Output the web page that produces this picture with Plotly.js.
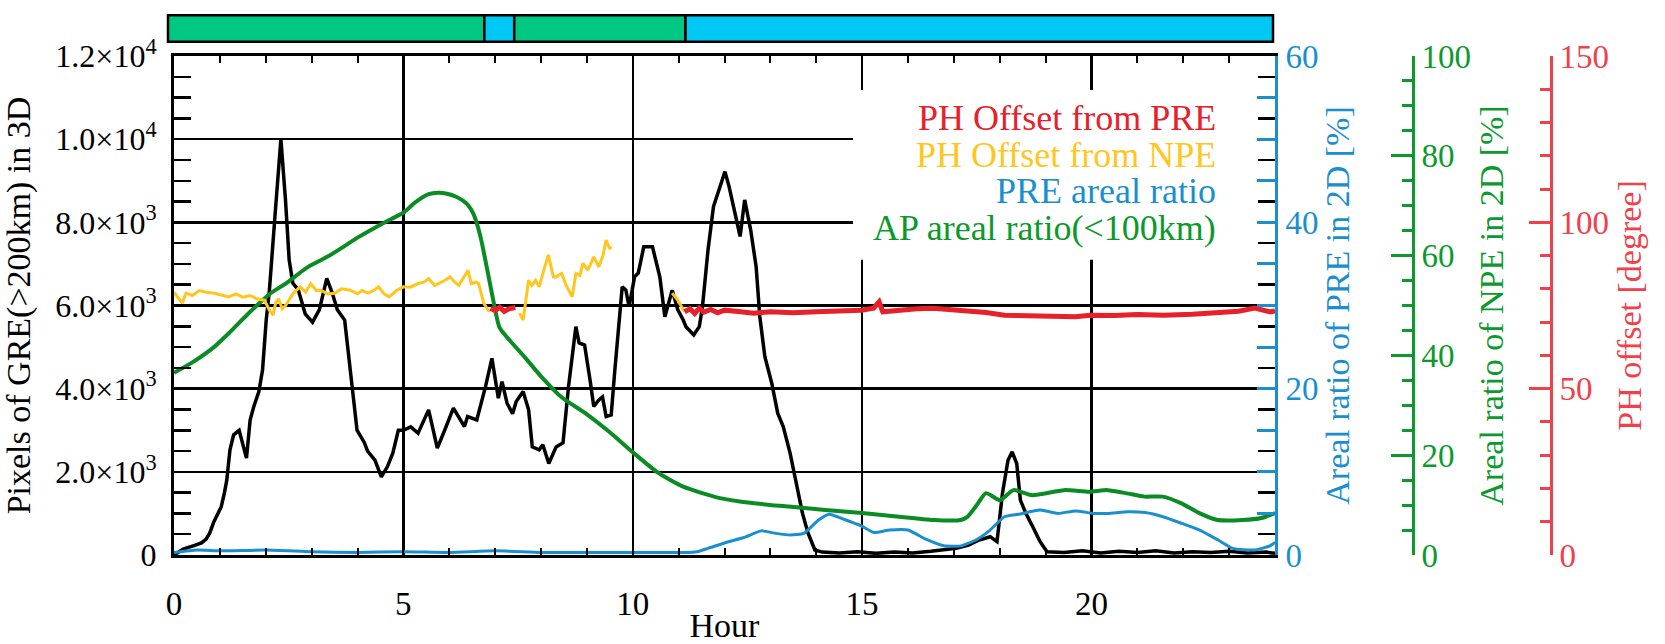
<!DOCTYPE html>
<html><head><meta charset="utf-8">
<script src="https://cdn.plot.ly/plotly-3.0.1.min.js"></script>
<style>html,body{margin:0;padding:0;background:#fff}#chart{width:1665px;height:644px}</style>
</head><body><div id="chart"></div>
<script>
// ---- data ----
const greHour = [0,0.2,0.45,0.6,0.7,0.78,0.87,0.93,1.03,1.1,1.15,1.22,1.3,1.42,1.5,1.58,1.66,1.74,1.85,1.93,2.01,2.08,2.2,2.33,2.43,2.51,2.59,2.71,2.86,3.02,3.17,3.33,3.45,3.56,3.72,3.88,3.99,4.15,4.22,4.38,4.52,4.65,4.77,4.89,5.0,5.16,5.32,5.55,5.74,5.9,6.09,6.33,6.4,6.6,6.79,6.93,7.07,7.15,7.26,7.38,7.46,7.61,7.73,7.81,7.96,8.04,8.17,8.33,8.48,8.6,8.76,8.83,8.95,9.07,9.15,9.26,9.34,9.42,9.53,9.61,9.69,9.77,9.85,9.92,10.04,10.12,10.24,10.43,10.59,10.7,10.86,10.98,11.1,11.16,11.33,11.45,11.52,11.64,11.76,11.87,12.01,12.1,12.22,12.34,12.44,12.57,12.69,12.77,12.88,13.03,13.16,13.28,13.43,13.58,13.7,13.82,13.97,14.13,14.5,14.9,15.3,15.7,16.1,16.5,16.8,17.05,17.32,17.55,17.79,17.94,18.06,18.18,18.27,18.37,18.45,18.57,18.72,18.88,19.03,19.4,19.8,20.2,20.6,21.0,21.4,21.8,22.2,22.6,23.0,23.4,23.8,24];
const greValue = [0,140,230,290,380,530,800,920,1160,1500,1800,2530,2890,3000,2700,2330,3250,3570,3930,4450,5650,6370,8140,10000,8540,7100,6540,6370,5800,5600,5900,6650,6300,5900,5650,4050,3000,2700,2500,2280,1880,2120,2450,3000,3000,3080,2930,3490,2570,3000,3530,3090,3330,3250,4050,4730,3770,4170,3650,3400,3690,3930,3490,2600,2530,2650,2200,2600,2700,4050,5490,5100,5050,4200,3570,3730,3800,3330,3370,4450,5580,6450,6370,5970,6690,6780,7410,7410,6690,5730,6370,5900,5650,5490,5290,5490,5970,7330,8380,8780,9220,8860,8220,7660,8540,7820,6930,5730,4770,4130,3410,3090,2450,1640,1000,530,120,70,50,80,40,70,50,90,130,160,240,360,440,320,1490,2280,2480,2200,1320,1000,680,320,80,60,100,50,90,60,100,50,80,60,90,50,70,40];

const preHour = [0,0.5,1,2,3,4,5,6,7,8,9,10,10.8,11.1,11.4,11.64,12.03,12.42,12.8,13.12,13.43,13.73,14.05,14.28,14.6,14.98,15.26,15.6,16.0,16.39,16.78,17.16,17.48,17.79,18.1,18.41,18.88,19.27,19.65,20.05,20.36,20.8,21.17,21.56,21.97,22.36,22.76,23.08,23.56,23.89,24];
const preRatio = [0.3,0.6,0.5,0.6,0.4,0.3,0.4,0.3,0.5,0.3,0.3,0.3,0.3,0.3,0.4,0.8,1.5,2.1,2.9,2.6,2.4,2.6,4.2,4.9,4.3,3.5,2.7,3.0,3.0,1.9,1.1,1.1,1.8,3.0,4.6,4.9,5.4,5.0,5.3,5.0,5.0,5.2,5.1,4.6,3.8,3.0,1.8,0.8,0.6,1.1,1.5];

const apHour = [0,0.4,0.85,1.2,1.6,2.1,2.45,2.9,3.35,3.7,4.0,4.4,4.75,5.0,5.25,5.55,5.75,5.95,6.15,6.3,6.42,6.52,6.6,6.7,6.8,6.95,7.1,7.34,7.65,8.0,8.45,9.0,9.5,10.0,10.55,11.1,11.9,12.6,13.4,14.2,15.0,15.75,16.55,17.15,17.3,17.5,17.7,18.0,18.3,18.7,19.4,19.95,20.35,20.8,21.15,21.55,21.95,22.35,22.75,23.3,23.7,24];
const apRatio = [36.5,38.6,41.5,44.5,48.2,52.4,54.5,57.6,59.8,61.8,63.6,65.7,67.4,68.6,70.6,72.3,72.6,72.4,71.8,71.0,70.0,68.5,66.5,63.0,58.5,51.5,45.5,42.8,39.6,35.8,31.6,28.2,24.6,20.6,16.5,13.7,11.4,10.4,9.7,9.0,8.4,7.7,7.0,7.0,7.7,10.0,12.4,11.0,13.0,12.0,13.0,12.7,13.0,12.3,11.7,11.7,10.4,8.4,7.0,7.0,7.4,8.4];

const npeOffHour = [0,0.1,0.18,0.26,0.4,0.55,0.7,0.88,1.05,1.19,1.35,1.5,1.66,1.8,1.97,2.08,2.16,2.22,2.28,2.36,2.43,2.52,2.6,2.75,2.87,2.98,3.1,3.2,3.35,3.5,3.65,3.84,4.0,4.1,4.23,4.35,4.46,4.58,4.69,4.85,5.0,5.15,5.32,5.45,5.55,5.68,5.78,5.9,6.02,6.12,6.21,6.3,6.41,6.48,6.58,6.64,6.75,6.87,null,7.53,7.61,7.73,7.8,7.88,7.96,8.04,8.16,8.27,8.33,8.45,8.55,8.68,8.76,8.85,8.91,9.02,9.15,9.26,9.35,9.42,9.5,9.53,null,10.86,10.98,11.13];
const npeOffset = [79,77,75.7,78.7,78,79.5,79,78.7,78.2,77.6,78.5,77.5,78,77,76.6,73.6,72.1,76,77,74,75,77,78.7,80.6,79,81.6,79.5,79.6,78.5,78.7,80,79.6,78.5,79.5,78.7,79.5,80.6,78.5,77.6,79.5,80.6,80.5,81.6,82,83.1,81,81.6,82.5,83.6,82,81.1,83,85.6,81.6,82,81.6,75.7,73.1,null,72.7,70.6,82.6,81,82.6,80.6,84.6,90.2,83.6,83.6,84.6,81,77.6,84.6,84,87.7,85.6,89.6,86.6,90,94.7,92,92.7,null,78.7,76.6,73.1];

const preOffHour = [6.9,7.0,7.1,7.2,7.3,7.44,null,11.13,11.25,11.35,11.45,11.55,11.7,11.85,12.0,12.3,12.64,13.0,13.5,14.0,14.5,14.98,15.25,15.37,15.45,15.8,16.2,16.55,17.0,17.32,17.7,18.1,18.6,19.1,19.65,19.97,20.5,21.0,21.56,22.2,22.76,23.2,23.56,23.75,23.9,24];
const preOffset = [74.2,73.5,74.5,73.2,74,74.4,null,73.1,74,72.6,74.2,73,73.8,72.8,73.6,73.2,72.7,73.1,72.8,73.1,73.3,73.6,74.2,76.1,73.1,73.6,74,74.2,73.8,73.6,72.9,72.1,71.9,71.8,71.6,72.1,72.0,72.3,72.1,72.4,72.7,73.3,74.2,73.5,73.1,73.4];

// top status bar: periods (start hour, length) and type
const periodStart = [0, 6.87, 7.52, 11.24];
const periodLength = [6.87, 0.65, 3.72, 12.76];
const periodColor = ['#00c882', '#00c8f5', '#00c882', '#00c8f5'];

const leftTickVals = [0, 2000, 4000, 6000, 8000, 10000, 12000];
const leftTickText = ['0', '2.0×10<sup>3</sup>', '4.0×10<sup>3</sup>', '6.0×10<sup>3</sup>', '8.0×10<sup>3</sup>', '1.0×10<sup>4</sup>', '1.2×10<sup>4</sup>'];
const legendLabels = ['PH Offset from PRE', 'PH Offset from NPE', 'PRE areal ratio', 'AP areal ratio(<100km)'];

// ---- style ----
const FONT = '"Liberation Serif", "Times New Roman", Times, serif';
const C_BLACK = '#000000', C_GREEN = '#0a8c24', C_GREENAX = '#0c9a2e', C_BLUE = '#1a8fd0', C_RED = '#e8202a', C_REDAX = '#f0404c', C_YEL = '#ffc61e';
const W = 1665, H = 644;
const px = v => v / W, py = v => 1 - v / H;
const xDom = [px(174), px(1275)];
const yDom = [py(555), py(56)];

const traces = [
  {x: apHour, y: apRatio, yaxis: 'y3', mode: 'lines', line: {color: C_GREEN, width: 4, shape: 'spline', smoothing: 0.6}, name: 'AP'},
  {x: preHour, y: preRatio, yaxis: 'y2', mode: 'lines', line: {color: C_BLUE, width: 3, shape: 'spline', smoothing: 0.5}, name: 'PRE'},
  {x: greHour, y: greValue, yaxis: 'y', mode: 'lines', line: {color: C_BLACK, width: 3.5}, name: 'GRE'},
  {x: npeOffHour, y: npeOffset, yaxis: 'y4', mode: 'lines', line: {color: C_YEL, width: 3}, connectgaps: false, name: 'NPE off'},
  {x: preOffHour, y: preOffset, yaxis: 'y4', mode: 'lines', line: {color: C_RED, width: 5}, connectgaps: false, name: 'PRE off'},
  {type: 'bar', orientation: 'h', xaxis: 'x2', yaxis: 'y5', y: periodStart.map(() => 0), x: periodLength, base: periodStart,
   width: 0.72, marker: {color: periodColor, line: {color: '#000', width: 2.5}}, hoverinfo: 'skip'}
];

const tickFont = (c, s) => ({family: FONT, size: s || 33, color: c});
const layout = {
  width: W, height: H,
  margin: {l: 0, r: 0, t: 0, b: 0},
  paper_bgcolor: '#fff', plot_bgcolor: 'rgba(0,0,0,0)',
  showlegend: false,
  font: {family: FONT, color: '#000'},
  xaxis: {
    domain: xDom, range: [0, 24], anchor: 'y',
    tickvals: [0, 5, 10, 15, 20], ticks: 'inside', ticklen: 7, tickwidth: 2, tickcolor: '#000',
    minor: {dtick: 1, tick0: 0, ticks: 'inside', ticklen: 7, tickwidth: 2, tickcolor: '#000', showgrid: false},
    showgrid: true, gridcolor: '#000', gridwidth: 2.5,
    showline: true, linecolor: '#000', linewidth: 3, mirror: 'allticks', zeroline: false,
    tickfont: tickFont('#000'), ticklabelstandoff: 17,
    title: {text: 'Hour', font: {family: FONT, size: 34, color: '#000'}, standoff: 0}
  },
  yaxis: {
    domain: yDom, range: [0, 12000], anchor: 'x',
    tickmode: 'array', tickvals: leftTickVals, ticktext: leftTickText,
    ticks: 'inside', ticklen: 17, tickwidth: 2.5, tickcolor: '#000',
    minor: {tickmode: 'linear', tick0: 0, dtick: 500, ticks: 'inside', ticklen: 17, tickwidth: 2.5, tickcolor: '#000', showgrid: false},
    showgrid: true, gridcolor: '#000', gridwidth: 2.5,
    showline: true, linecolor: '#000', linewidth: 3, mirror: 'allticks', zeroline: false,
    tickfont: tickFont('#000', 32), ticklabelstandoff: 8,
    title: {text: 'Pixels of GRE(>200km) in 3D', font: {family: FONT, size: 34, color: '#000'}, standoff: 20}
  },
  yaxis2: {
    overlaying: 'y', side: 'right', anchor: 'x', range: [0, 60],
    tickvals: [0, 20, 40, 60], ticks: 'inside', ticklen: 18, tickwidth: 3, tickcolor: C_BLUE,
    minor: {dtick: 5, tick0: 0, ticks: 'inside', ticklen: 18, tickwidth: 3, tickcolor: C_BLUE, showgrid: false},
    showgrid: false, zeroline: false, showline: true, linecolor: C_BLUE, linewidth: 3,
    tickfont: tickFont(C_BLUE), ticklabelstandoff: 1,
    title: {text: 'Areal ratio of PRE in 2D [%]', font: {family: FONT, size: 34, color: C_BLUE}, standoff: 8}
  },
  yaxis3: {
    overlaying: 'y', side: 'right', anchor: 'free', position: px(1413), range: [0, 100],
    tickvals: [0, 20, 40, 60, 80, 100], ticks: 'inside', ticklen: 21, tickwidth: 3, tickcolor: C_GREENAX,
    minor: {dtick: 5, tick0: 0, ticks: 'inside', ticklen: 10, tickwidth: 3, tickcolor: C_GREENAX, showgrid: false},
    showgrid: false, zeroline: false, showline: true, linecolor: C_GREENAX, linewidth: 3,
    tickfont: tickFont(C_GREENAX), ticklabelstandoff: 0,
    title: {text: 'Areal ratio of NPE in 2D [%]', font: {family: FONT, size: 34, color: C_GREENAX}, standoff: 9}
  },
  yaxis4: {
    overlaying: 'y', side: 'right', anchor: 'free', position: px(1551), range: [0, 150],
    tickvals: [0, 50, 100, 150], ticks: 'inside', ticklen: 21, tickwidth: 3, tickcolor: C_REDAX,
    minor: {dtick: 10, tick0: 0, ticks: 'inside', ticklen: 10, tickwidth: 3, tickcolor: C_REDAX, showgrid: false},
    showgrid: false, zeroline: false, showline: true, linecolor: C_REDAX, linewidth: 3,
    tickfont: tickFont(C_REDAX), ticklabelstandoff: 0,
    title: {text: 'PH offset [degree]', font: {family: FONT, size: 34, color: C_REDAX}, standoff: 9}
  },
  xaxis2: {domain: [px(164), px(1277)], range: [-0.0869, 24.0869], anchor: 'y5', visible: false, fixedrange: true},
  yaxis5: {domain: [py(47), py(10)], range: [-0.5, 0.5], anchor: 'x2', visible: false, fixedrange: true},
  shapes: [
    {type: 'rect', xref: 'x', yref: 'y', x0: 14.8, x1: 24, y0: 7100, y1: 11180, fillcolor: '#fff', line: {width: 0}, layer: 'between'}
  ],
  annotations: legendLabels.map((t, i) => ({
    text: t, xref: 'paper', yref: 'paper', x: px(1218), y: py([118, 155, 191, 228][i]),
    xanchor: 'right', yanchor: 'middle', showarrow: false,
    font: {family: FONT, size: 36, color: [C_RED, C_YEL, C_BLUE, '#0a9a2c'][i]}
  }))
};

Plotly.newPlot('chart', traces, layout, {staticPlot: true, displayModeBar: false});
</script>
</body></html>
